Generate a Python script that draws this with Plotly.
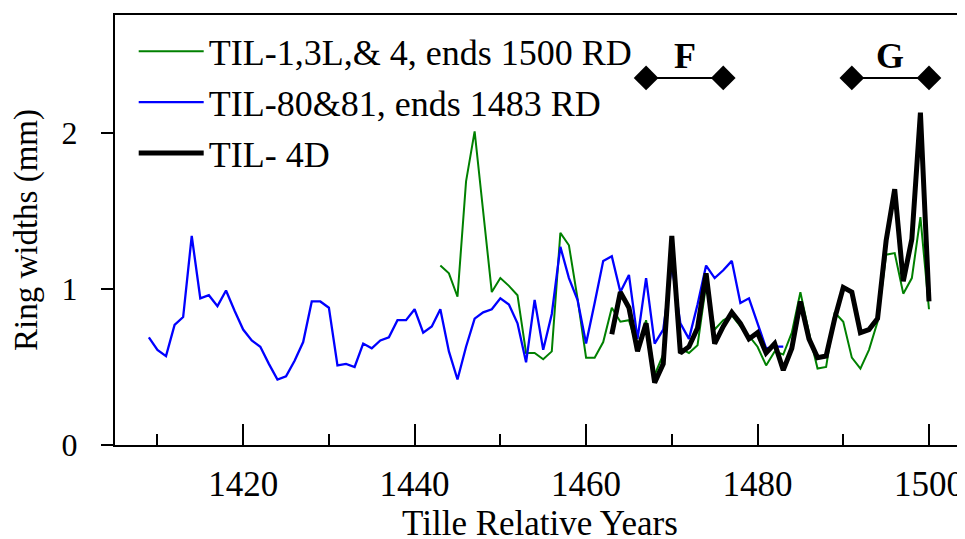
import plotly.graph_objects as go

# ---- data ----
blue_years = list(range(1409, 1484))
blue_vals = [0.69, 0.61, 0.57, 0.77, 0.82, 1.34, 0.94, 0.96, 0.89, 0.99,
             0.86, 0.74, 0.67, 0.63, 0.52, 0.42, 0.44, 0.54, 0.66, 0.92,
             0.92, 0.88, 0.51, 0.52, 0.50, 0.65, 0.62, 0.67, 0.69, 0.80,
             0.80, 0.87, 0.72, 0.76, 0.87, 0.60, 0.42, 0.63, 0.81, 0.85,
             0.87, 0.94, 0.90, 0.78, 0.53, 0.93, 0.61, 0.84, 1.27, 1.07,
             0.93, 0.65, 0.91, 1.18, 1.21, 0.98, 1.09, 0.68, 1.07, 0.65,
             0.74, 1.15, 0.78, 0.68, 0.90, 1.15, 1.07, 1.12, 1.18, 0.91,
             0.94, 0.78, 0.62, 0.63, 0.63]

green_years = list(range(1443, 1501))
green_vals = [1.15, 1.10, 0.95, 1.69, 2.01, 1.50, 0.98, 1.07, 1.02, 0.96,
              0.59, 0.59, 0.55, 0.60, 1.36, 1.28, 0.94, 0.56, 0.56, 0.66,
              0.88, 0.79, 0.80, 0.62, 0.80, 0.45, 0.58, 1.30, 0.62, 0.59,
              0.64, 1.03, 0.74, 0.80, 0.83, 0.76, 0.70, 0.63, 0.51, 0.60,
              0.58, 0.72, 0.98, 0.72, 0.49, 0.50, 0.85, 0.79, 0.56, 0.49,
              0.61, 0.79, 1.22, 1.23, 0.97, 1.07, 1.46, 0.87]

black_years = list(range(1463, 1501))
black_vals = [0.71, 0.98, 0.88, 0.60, 0.78, 0.40, 0.52, 1.34, 0.59, 0.63,
              0.75, 1.10, 0.65, 0.76, 0.85, 0.78, 0.68, 0.72, 0.59, 0.65,
              0.48, 0.62, 0.92, 0.68, 0.56, 0.57, 0.81, 1.01, 0.98, 0.72,
              0.74, 0.81, 1.31, 1.64, 1.05, 1.32, 2.13, 0.92]

series_names = ["TIL-1,3L,& 4, ends 1500 RD", "TIL-80&81, ends 1483 RD", "TIL- 4D"]

# event intervals
intervals = [("F", 1467, 1476), ("G", 1491, 1500)]
interval_y = 2.353

x_major = [1420, 1440, 1460, 1480, 1500]
x_minor = [1410, 1430, 1450, 1470, 1490]
y_ticks = [0, 1, 2]

FONT = "Liberation Serif"

fig = go.Figure()
fig.add_trace(go.Scatter(x=green_years, y=green_vals, mode="lines",
                         line=dict(color="#008000", width=2),
                         name=series_names[0], legendgroup="a"))
fig.add_trace(go.Scatter(x=blue_years, y=blue_vals, mode="lines",
                         line=dict(color="#0000ff", width=2.3),
                         name=series_names[1], legendgroup="b"))
fig.add_trace(go.Scatter(x=black_years, y=black_vals, mode="lines",
                         line=dict(color="#000000", width=5),
                         name=series_names[2], legendgroup="c"))

for label, x0, x1 in intervals:
    fig.add_trace(go.Scatter(x=[x0, x1], y=[interval_y, interval_y],
                             mode="lines+markers",
                             line=dict(color="black", width=2),
                             marker=dict(symbol="diamond", size=19, color="black"),
                             showlegend=False, hoverinfo="skip"))
    fig.add_annotation(x=(x0 + x1) / 2, y=interval_y, text="<b>%s</b>" % label,
                       showarrow=False, yanchor="bottom", yshift=0,
                       font=dict(family=FONT, size=36, color="black"))

fig.update_layout(
    template="none",
    width=965, height=539,
    margin=dict(l=107, r=8, t=7, b=102, autoexpand=False),
    paper_bgcolor="white", plot_bgcolor="white",
    font=dict(family=FONT, color="black"),
    showlegend=True,
    legend=dict(x=0.022, y=0.985, xanchor="left", yanchor="top",
                font=dict(family=FONT, size=36), tracegroupgap=1,
                itemwidth=65,
                bgcolor="rgba(0,0,0,0)", borderwidth=0, traceorder="grouped"),
    xaxis=dict(range=[1405.05, 1504.2], tickmode="array", tickvals=x_major,
               ticktext=[str(v) for v in x_major], automargin=False,
               ticks="inside", ticklen=21, tickwidth=2, tickcolor="black",
               minor=dict(tickvals=x_minor, ticks="inside", ticklen=11,
                          tickwidth=2, tickcolor="black", showgrid=False),
               showline=True, linewidth=2, linecolor="black", mirror=True,
               showgrid=False, zeroline=False, ticklabelstandoff=7,
               tickfont=dict(family=FONT, size=35),
               title=dict(text="Tille Relative Years", standoff=5,
                          font=dict(family=FONT, size=35))),
    yaxis=dict(range=[0, 2.756], tickmode="array", tickvals=y_ticks,
               automargin=False,
               ticks="outside", ticklen=12, tickwidth=2, tickcolor="black",
               showline=True, linewidth=2, linecolor="black",
               showgrid=False, zeroline=False, ticklabelstandoff=17,
               tickfont=dict(family=FONT, size=32),
               title=dict(text="Ring widths (mm)", standoff=16,
                          font=dict(family=FONT, size=33))),
)

fig.write_html("out.html")
